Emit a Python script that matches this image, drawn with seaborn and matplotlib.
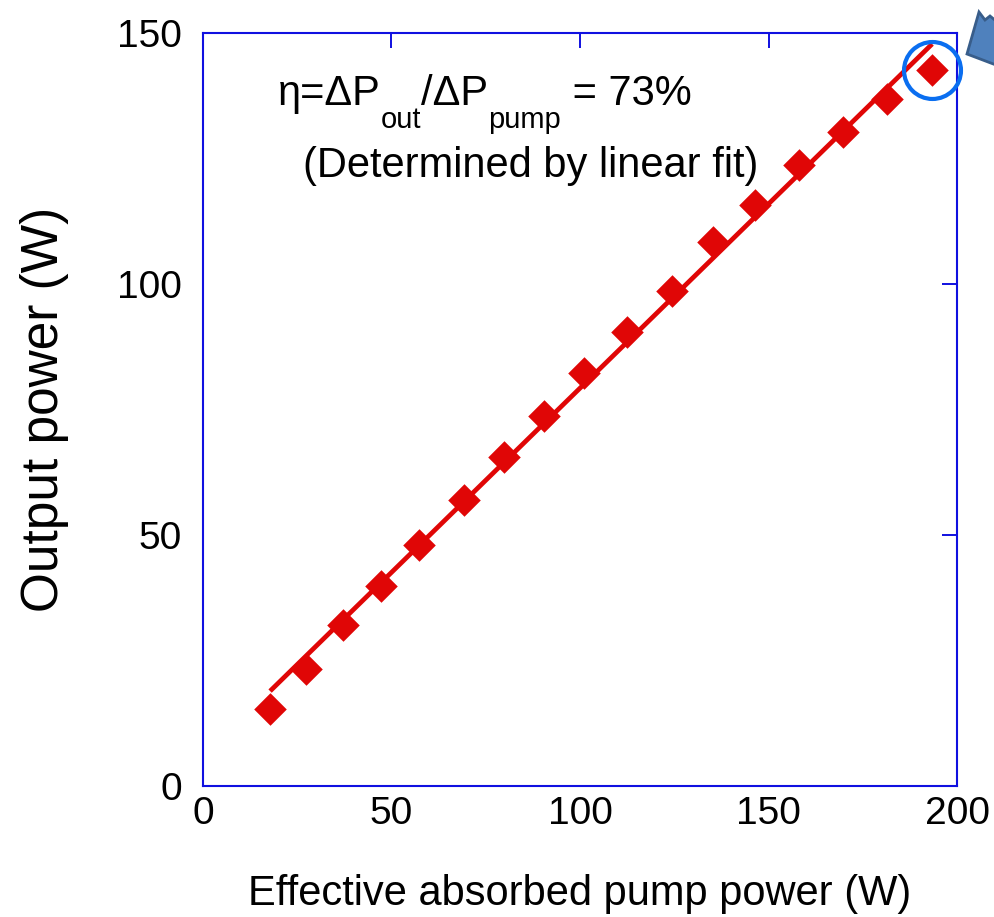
import numpy as np
import pandas as pd
import seaborn as sns
import matplotlib.pyplot as plt
from matplotlib.patches import Polygon

# data
pump_power = [17.8, 27.3, 37.1, 47.2, 57.3, 69.2, 79.8, 90.5, 101.1, 112.5,
              124.4, 135.3, 146.4, 158.1, 169.8, 181.4, 193.4]
output_power = [15.3, 23.3, 32.1, 39.8, 48.0, 57.0, 65.5, 73.7, 82.3, 90.4,
                98.6, 108.4, 115.7, 123.7, 130.3, 136.9, 142.6]
# linear fit line end points
fit_x = [17.8, 193.4]
fit_y = [18.9, 147.8]
x_ticks = [0, 50, 100, 150, 200]
y_ticks = [0, 50, 100, 150]

sns.set_style('white')
plt.rcParams['font.family'] = ['Liberation Sans', 'DejaVu Sans']
plt.rcParams['text.color'] = 'black'
plt.rcParams['axes.labelcolor'] = 'black'

red = '#e00606'
blue = '#1010e0'

fig = plt.figure(figsize=(9.94, 9.17), dpi=100)
ax = fig.add_axes([0.2042, 0.1429, 0.7586, 0.8212])

df = pd.DataFrame({'x': pump_power, 'y': output_power})
fit = pd.DataFrame({'x': fit_x, 'y': fit_y})

sns.lineplot(data=fit, x='x', y='y', ax=ax, color=red, lw=3.4,
             solid_capstyle='butt', zorder=2)
sns.scatterplot(data=df, x='x', y='y', ax=ax, marker='D', s=275,
                color=red, linewidth=0, zorder=3)

# circle around the last point
ax.plot(pump_power[-1:], output_power[-1:], 'o', ms=41, mfc='none',
        mec='#0a6ef0', mew=3.0, clip_on=False, zorder=4)

ax.set_xlim(0, 200)
ax.set_ylim(0, 150)
ax.set_xticks(x_ticks)
ax.set_yticks(y_ticks)
for s in ax.spines.values():
    s.set_color(blue)
    s.set_linewidth(1.5)
ax.tick_params(direction='in', length=11, width=1.4, color=blue,
               labelcolor='black', top=True, right=True, labelsize=28)
ax.tick_params(axis='x', pad=7)
ax.tick_params(axis='y', pad=15)

ax.set_xlabel('Effective absorbed pump power (W)', fontsize=30)
ax.set_ylabel('Output power (W)', fontsize=37)
ax.xaxis.set_label_coords(0.5, -0.117)
ax.yaxis.set_label_coords(-0.178, 0.5)

# efficiency text, built from pieces so the subscripts sit low
base_y = 135.7
sub_y = 131.1
t = ax.text(19.9, base_y, 'η=ΔP', fontsize=30, va='baseline', ha='left')
pieces = [('out', sub_y, 21), ('/ΔP', base_y, 30), ('pump', sub_y, 21),
          (' = 73%', base_y, 30)]
for txt, yy, fs in pieces:
    t = ax.annotate(txt, xy=(1, yy), xycoords=(t, 'data'), fontsize=fs,
                    va='baseline', ha='left')
ax.text(26.5, 121.3, '(Determined by linear fit)', fontsize=30,
        va='baseline', ha='left')

# cropped block arrow at the top right corner
W, H = 994, 917
arrow_px = [(967, 54), (979, 12), (985, 20), (990, 16), (996, 21),
            (996, 65)]
arrow = Polygon([(px / W, 1 - py / H) for px, py in arrow_px],
                closed=True, transform=fig.transFigure, facecolor='#4f81bd',
                edgecolor='#385d8a', linewidth=2, clip_on=False)
fig.patches.append(arrow)

fig.savefig('out.png', dpi=100)
